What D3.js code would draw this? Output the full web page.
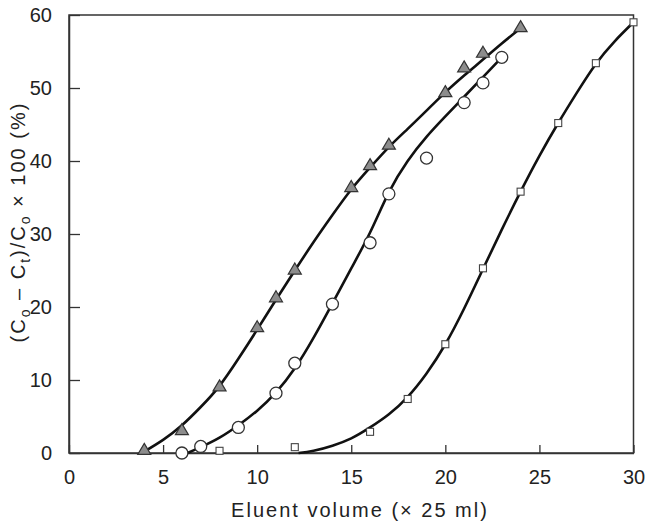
<!DOCTYPE html>
<html>
<head>
<meta charset="utf-8">
<script src="https://cdn.jsdelivr.net/npm/d3@7"></script>
<style>
  body { margin: 0; background: #fff; }
  text { font-family: "Liberation Sans", Arial, sans-serif; fill: #222; }
</style>
</head>
<body>
<svg id="chart" width="646" height="523"></svg>
<script>
// measured points (x = eluent volume, y = percent removed)
const triX = [4, 6, 8, 10, 11, 12, 15, 16, 17, 20, 21, 22, 24];
const triY = [0.5, 3.2, 9.2, 17.3, 21.4, 25.2, 36.5, 39.5, 42.3, 49.5, 52.9, 54.9, 58.4];
const circX = [6, 7, 9, 11, 12, 14, 16, 17, 19, 21, 22, 23];
const circY = [0, 0.9, 3.5, 8.2, 12.3, 20.4, 28.8, 35.5, 40.4, 48.0, 50.7, 54.2];
const sqX = [8, 12, 16, 18, 20, 22, 24, 26, 28, 30];
const sqY = [0.3, 0.8, 2.9, 7.4, 14.9, 25.3, 35.8, 45.2, 53.4, 59.0];

// hand-drawn fitted curves
const triCurveX = [4, 5, 6, 7, 8, 9, 10, 11, 12, 13, 14, 15, 16, 17, 18, 19, 20, 21, 22, 23, 24];
const triCurveY = [0.2, 1.8, 3.8, 6.3, 9.2, 12.9, 16.9, 21.0, 25.0, 28.9, 32.6, 36.1, 39.1, 41.9, 44.4, 46.9, 49.4, 51.7, 53.9, 56.1, 58.2];
const circCurveX = [6.3, 7, 8, 9, 10, 11, 12, 13, 14, 15, 16, 17, 18, 19, 20, 21, 22, 23];
const circCurveY = [0, 0.8, 2.1, 3.8, 5.8, 8.3, 11.6, 15.8, 20.5, 25.3, 30.2, 35.7, 40.0, 43.3, 46.1, 48.8, 51.5, 54.2];
const sqCurveX = [12.2, 13, 14, 15, 16, 17, 18, 19, 20, 21, 22, 23, 24, 25, 26, 27, 28, 29, 30];
const sqCurveY = [0, 0.3, 1.0, 2.0, 3.5, 5.3, 7.7, 10.9, 14.9, 19.8, 25.2, 30.6, 35.8, 40.7, 45.2, 49.4, 53.3, 56.4, 59.0];

const xTicks = [0, 5, 10, 15, 20, 25, 30];
const yTicks = [0, 10, 20, 30, 40, 50, 60];

const svg = d3.select('#chart');
const plotLeft = 69, plotRight = 633.5, plotTop = 15, plotBottom = 453;

const x = d3.scaleLinear().domain([0, 30]).range([plotLeft, plotRight]);
const y = d3.scaleLinear().domain([0, 60]).range([plotBottom, plotTop]);

//  frame
svg.append('rect')
    .attr('x', plotLeft).attr('y', plotTop)
    .attr('width', plotRight - plotLeft).attr('height', plotBottom - plotTop)
    .attr('fill', 'none').attr('stroke', '#333').attr('stroke-width', 1.5);

//  axes with inward ticks
const xAxis = svg.append('g').attr('transform', `translate(0,${plotBottom})`)
    .call(d3.axisBottom(x).tickValues(xTicks).tickSizeInner(-8).tickSizeOuter(0).tickPadding(17));
const yAxis = svg.append('g').attr('transform', `translate(${plotLeft},0)`)
    .call(d3.axisLeft(y).tickValues(yTicks).tickSizeInner(-11).tickSizeOuter(0).tickPadding(17));

[xAxis, yAxis].forEach(g => {
    g.select('.domain').attr('stroke', '#333').attr('stroke-width', 1.5);
    g.selectAll('.tick line').attr('stroke', '#333').attr('stroke-width', 1.3);
    g.selectAll('.tick text').attr('font-size', 20).attr('fill', '#222')
        .attr('font-family', '"Liberation Sans", Arial, sans-serif');
});

//  fitted curves
const line = d3.line().x(d => x(d[0])).y(d => y(d[1])).curve(d3.curveNatural);
const curves = [
    d3.zip(triCurveX, triCurveY),
    d3.zip(circCurveX, circCurveY),
    d3.zip(sqCurveX, sqCurveY)
];
svg.selectAll('path.fit').data(curves).join('path')
    .attr('class', 'fit')
    .attr('d', line)
    .attr('fill', 'none').attr('stroke', '#111').attr('stroke-width', 2.6);

//  markers
svg.selectAll('path.tri').data(d3.zip(triX, triY)).join('path')
    .attr('class', 'tri')
    .attr('transform', d => `translate(${x(d[0])},${y(d[1])})`)
    .attr('d', 'M0,-6L6.5,5L-6.5,5Z')
    .attr('fill', '#8c8c8c').attr('stroke', '#333').attr('stroke-width', 1.2);

svg.selectAll('circle.pt').data(d3.zip(circX, circY)).join('circle')
    .attr('class', 'pt')
    .attr('cx', d => x(d[0])).attr('cy', d => y(d[1])).attr('r', 6)
    .attr('fill', '#fff').attr('stroke', '#333').attr('stroke-width', 1.3);

svg.selectAll('rect.sq').data(d3.zip(sqX, sqY)).join('rect')
    .attr('class', 'sq')
    .attr('x', d => x(d[0]) - 3.5).attr('y', d => y(d[1]) - 3.5)
    .attr('width', 7).attr('height', 7)
    .attr('fill', '#fff').attr('stroke', '#444').attr('stroke-width', 1.1);

//  axis titles
svg.append('text')
    .attr('x', 360).attr('y', 517)
    .attr('text-anchor', 'middle').attr('font-size', 20)
    .attr('letter-spacing', 2)
    .text('Eluent volume (× 25 ml)');

const yTitle = svg.append('text')
    .attr('transform', 'translate(25,222) rotate(-90)')
    .attr('text-anchor', 'middle').attr('font-size', 20)
    .attr('letter-spacing', 2);
const parts = [
    ['(C', 0], ['o', 1], [' – C', 0], ['t', 1], [')/C', 0], ['o', 1], [' × 100 (%)', 0]
];
let shifted = false;
parts.forEach(([t, sub]) => {
    const ts = yTitle.append('tspan').text(t);
    if (sub) { ts.attr('font-size', 14).attr('dy', 5); shifted = true; }
    else if (shifted) { ts.attr('dy', -5); shifted = false; }
});
</script>
</body>
</html>
